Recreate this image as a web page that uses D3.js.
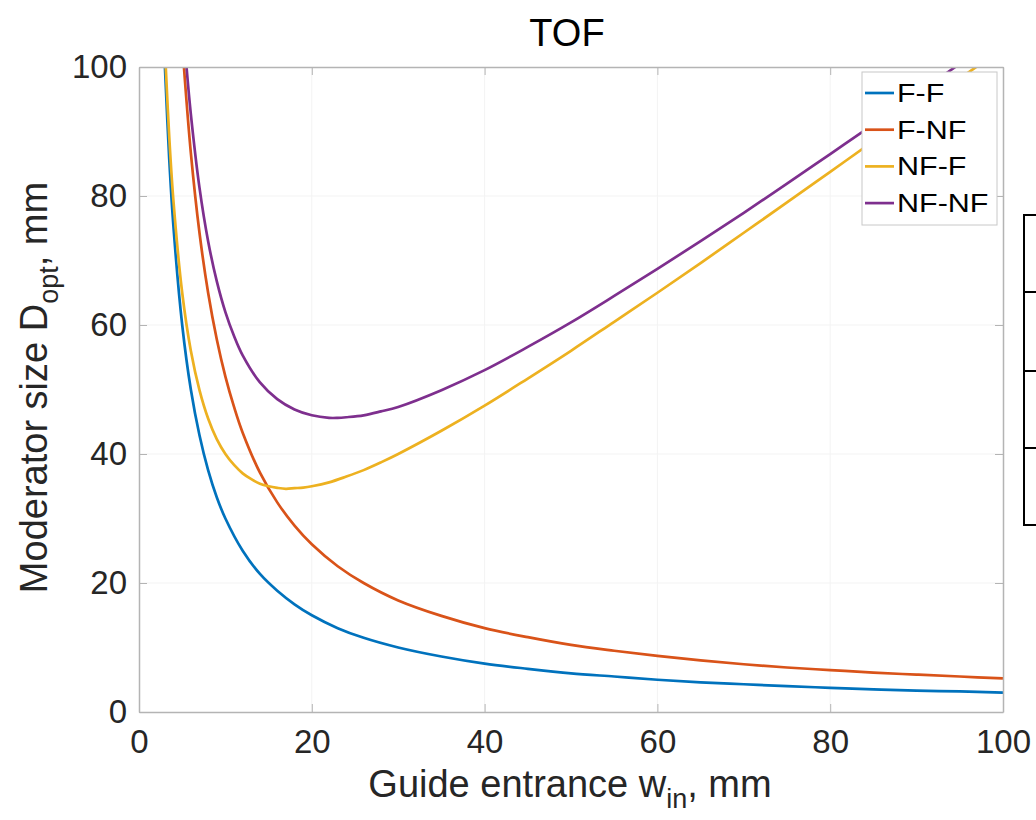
<!DOCTYPE html>
<html>
<head>
<meta charset="utf-8">
<script src="https://cdn.jsdelivr.net/npm/d3@7"></script>
<style>
  html, body { margin: 0; padding: 0; background: #fff; }
  svg { display: block; font-family: "Liberation Sans", Arial, Helvetica, sans-serif; }
</style>
</head>
<body>
<svg id="chart" width="1036" height="820"></svg>
<script>
// Optimal moderator size vs. guide entrance width, TOF case
const xFF   = [3, 3.5, 4, 5, 6, 7, 8, 9, 10, 12, 14, 16, 18, 20, 23, 26, 30, 35, 40, 45, 50, 55, 60, 65, 70, 75, 80, 85, 90, 95, 100];
const yFF   = [100, 85.7, 75, 60, 50, 42.9, 37.5, 33.3, 30, 25, 21.4, 18.8, 16.7, 15, 13, 11.5, 10, 8.6, 7.5, 6.7, 6, 5.5, 5, 4.6, 4.3, 4, 3.75, 3.5, 3.3, 3.2, 3.0];

const xFNF  = [5.2, 6, 7, 8, 9, 10, 11, 12, 14, 16, 18, 20, 23, 26, 30, 35, 40, 45, 50, 55, 60, 65, 70, 75, 80, 85, 90, 95, 100];
const yFNF  = [100, 86.7, 74.3, 65, 57.8, 52, 47.3, 43.3, 37.1, 32.5, 28.9, 26, 22.6, 20, 17.3, 14.9, 13, 11.6, 10.4, 9.5, 8.7, 8, 7.4, 6.9, 6.5, 6.1, 5.8, 5.5, 5.2];

const xNFF  = [3.1, 3.5, 4, 5, 6, 7, 8, 9, 10, 11, 12, 13, 14, 15, 16, 17, 18, 19, 20, 22, 24, 26, 28, 30, 35, 40, 45, 50, 55, 60, 65, 70, 75, 80, 85, 90, 95, 97];
const yNFF  = [99.9, 89.2, 79, 65, 56, 49.9, 45.5, 42.3, 40, 38.3, 37, 36.1, 35.4, 35, 34.75, 34.6, 34.7, 34.8, 35, 35.6, 36.5, 37.5, 38.7, 40, 43.6, 47.5, 51.7, 56, 60.5, 65, 69.6, 74.3, 79, 83.75, 88.5, 93.3, 98.2, 100.1];

const xNFNF = [5.5, 6, 7, 8, 9, 10, 11, 12, 14, 16, 18, 20, 22, 23, 24, 26, 28, 30, 35, 40, 45, 50, 55, 60, 65, 70, 75, 80, 85, 90, 95];
const yNFNF = [100, 92.7, 81.3, 73, 66.8, 62, 58.3, 55.3, 51.1, 48.5, 46.9, 46, 45.6, 45.6, 45.7, 46, 46.6, 47.3, 49.9, 53, 56.6, 60.4, 64.5, 68.7, 73, 77.4, 81.9, 86.5, 91.1, 95.8, 100.5];

const seriesNames = ["F-F", "F-NF", "NF-F", "NF-NF"];
const seriesColors = ["#0072BD", "#D95319", "#EDB120", "#7E2F8E"];
const xTicks = [0, 20, 40, 60, 80, 100];
const yTicks = [0, 20, 40, 60, 80, 100];

const series = [
  { name: seriesNames[0], color: seriesColors[0], xs: xFF,   ys: yFF },
  { name: seriesNames[1], color: seriesColors[1], xs: xFNF,  ys: yFNF },
  { name: seriesNames[2], color: seriesColors[2], xs: xNFF,  ys: yNFF },
  { name: seriesNames[3], color: seriesColors[3], xs: xNFNF, ys: yNFNF }
];

const svg = d3.select("#chart");
const plot = { left: 139, right: 1003, top: 67, bottom: 712 };

const x = d3.scaleLinear().domain([0, 100]).range([plot.left, plot.right]);
const y = d3.scaleLinear().domain([0, 100]).range([plot.bottom, plot.top]);

const axisColor = "#b4b4b4";
const textColor = "#262626";

// faint grid
const grid = svg.append("g");
grid.selectAll("line.gx").data(xTicks.slice(1, -1)).join("line")
  .attr("x1", d => x(d)).attr("x2", d => x(d))
  .attr("y1", plot.top).attr("y2", plot.bottom)
  .attr("stroke", "#f3f3f3").attr("stroke-width", 1);
grid.selectAll("line.gy").data(yTicks.slice(1, -1)).join("line")
  .attr("x1", plot.left).attr("x2", plot.right)
  .attr("y1", d => y(d)).attr("y2", d => y(d))
  .attr("stroke", "#f3f3f3").attr("stroke-width", 1);

// clip for curves
svg.append("defs").append("clipPath").attr("id", "plotClip")
  .append("rect")
  .attr("x", plot.left).attr("y", plot.top)
  .attr("width", plot.right - plot.left).attr("height", plot.bottom - plot.top);

const line = d3.line()
  .x(d => x(d[0]))
  .y(d => y(d[1]))
  .curve(d3.curveCatmullRom.alpha(0.5));

svg.append("g").attr("clip-path", "url(#plotClip)")
  .selectAll("path").data(series).join("path")
  .attr("d", s => line(s.xs.map((v, i) => [v, s.ys[i]])))
  .attr("fill", "none")
  .attr("stroke", s => s.color)
  .attr("stroke-width", 2.7)
  .attr("stroke-linejoin", "round");

// axes (ticks pointing inward, box around the plot)
const xAxis = d3.axisBottom(x).tickValues(xTicks).tickSizeInner(-8).tickSizeOuter(0).tickPadding(18);
const yAxis = d3.axisLeft(y).tickValues(yTicks).tickSizeInner(-8).tickSizeOuter(0).tickPadding(12);

const gx = svg.append("g").attr("transform", `translate(0,${plot.bottom})`).call(xAxis);
const gy = svg.append("g").attr("transform", `translate(${plot.left},0)`).call(yAxis);
const gxTop = svg.append("g").attr("transform", `translate(0,${plot.top})`)
  .call(d3.axisTop(x).tickValues(xTicks).tickSizeInner(-8).tickSizeOuter(0).tickFormat(""));
const gyRight = svg.append("g").attr("transform", `translate(${plot.right},0)`)
  .call(d3.axisRight(y).tickValues(yTicks).tickSizeInner(-8).tickSizeOuter(0).tickFormat(""));

[gx, gy, gxTop, gyRight].forEach(g => {
  g.select(".domain").attr("stroke", axisColor).attr("stroke-width", 1.5);
  g.selectAll(".tick line").attr("stroke", axisColor).attr("stroke-width", 1);
  g.selectAll(".tick text").attr("fill", textColor).attr("font-size", 33)
    .attr("font-family", "'Liberation Sans', Arial, sans-serif");
});

// title
svg.append("text")
  .attr("x", 567).attr("y", 46)
  .attr("text-anchor", "middle").attr("fill", "#000").attr("font-size", 38)
  .text("TOF");

// x-axis label
const xl = svg.append("text")
  .attr("x", 570).attr("y", 797)
  .attr("text-anchor", "middle").attr("fill", textColor).attr("font-size", 38);
xl.append("tspan").text("Guide entrance w");
xl.append("tspan").attr("dy", 11).attr("font-size", 27).text("in");
xl.append("tspan").attr("dy", -11).text(", mm");

// y-axis label
const yl = svg.append("text")
  .attr("transform", `translate(47,${(plot.top + plot.bottom) / 2 - 2}) rotate(-90)`)
  .attr("text-anchor", "middle").attr("fill", textColor).attr("font-size", 38);
yl.append("tspan").text("Moderator size D");
yl.append("tspan").attr("dy", 11).attr("font-size", 27).text("opt");
yl.append("tspan").attr("dy", -11).text(", mm");

// legend
const leg = svg.append("g");
leg.append("rect")
  .attr("x", 862).attr("y", 72).attr("width", 135).attr("height", 153)
  .attr("fill", "#fff").attr("stroke", "#c8c8c8").attr("stroke-width", 1);
const legItems = leg.selectAll("g.item").data(series).join("g")
  .attr("transform", (d, i) => `translate(0,${93 + i * 36.7})`);
legItems.append("line")
  .attr("x1", 865).attr("x2", 894).attr("y1", 0).attr("y2", 0)
  .attr("stroke", d => d.color).attr("stroke-width", 2.7);
legItems.append("text")
  .attr("transform", "translate(897,0) scale(1.22,1)")
  .attr("dy", "0.36em")
  .attr("fill", "#000").attr("font-size", 25)
  .text(d => d.name);

// boxed table edge at the right margin
const tableRows = [215, 292, 371, 448, 525];
const tbl = svg.append("g").attr("fill", "none").attr("stroke", "#000").attr("stroke-width", 2);
tbl.append("line").attr("x1", 1024).attr("x2", 1024).attr("y1", tableRows[0]).attr("y2", tableRows[tableRows.length - 1]);
tbl.selectAll("line.row").data(tableRows).join("line")
  .attr("x1", 1023).attr("x2", 1040).attr("y1", d => d).attr("y2", d => d);
</script>
</body>
</html>
